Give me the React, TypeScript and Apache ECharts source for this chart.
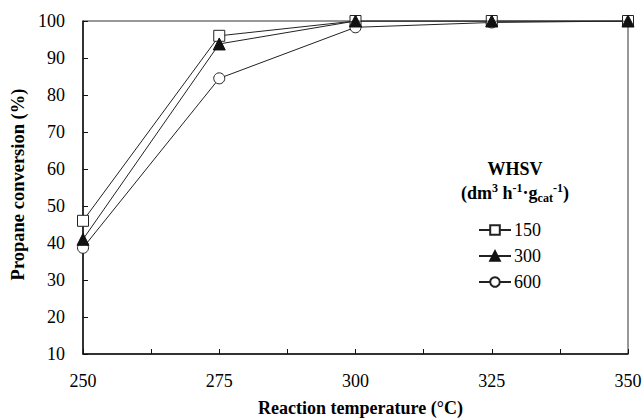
import React, { useEffect, useRef } from "react";
import * as echarts from "echarts";

const temperatures = [250, 275, 300, 325, 350];
const whsv150 = [46, 96, 100, 100, 100];
const whsv300 = [41, 93.8, 100, 100, 100];
const whsv600 = [38.7, 84.5, 98.3, 99.6, 100];
const seriesNames = ["150", "300", "600"];

const FONT = "Liberation Serif";

export default function App() {
  const ref = useRef<HTMLDivElement>(null);
  useEffect(() => {
    if (!ref.current) return;
    const chart = echarts.init(ref.current, null, { renderer: "svg" });
    const mk = (vals: number[]) => temperatures.map((t, i) => [t, vals[i]]);
    chart.setOption({
      animation: false,
      backgroundColor: "#fff",
      textStyle: { fontFamily: FONT, color: "#000" },
      grid: {
        left: 83,
        right: 14,
        top: 21,
        bottom: 66,
        show: true,
        borderColor: "#333",
        borderWidth: 1,
        containLabel: false,
        outerBoundsMode: "none",
      },
      xAxis: {
        type: "value",
        min: 250,
        max: 350,
        interval: 12.5,
        name: "Reaction temperature (°C)",
        nameLocation: "middle",
        nameGap: 45,
        nameTextStyle: { fontFamily: FONT, fontWeight: "bold", fontSize: 18, color: "#000", padding: [0, 0, 0, 10] },
        axisLine: { show: true, lineStyle: { color: "#111", width: 1.5 } },
        axisTick: { show: true, inside: true, length: 5, lineStyle: { color: "#111" } },
        splitLine: { show: false },
        axisLabel: {
          fontFamily: FONT,
          fontSize: 18,
          color: "#000",
          margin: 18,
          formatter: (v: number) => (v % 25 === 0 ? String(v) : ""),
        },
      },
      yAxis: {
        type: "value",
        min: 10,
        max: 100,
        interval: 10,
        name: "Propane conversion (%)",
        nameLocation: "middle",
        nameGap: 51,
        nameTextStyle: { fontFamily: FONT, fontWeight: "bold", fontSize: 18.5, color: "#000", padding: [0, 0, 0, 6] },
        axisLine: { show: true, lineStyle: { color: "#111", width: 1.5 } },
        axisTick: { show: true, inside: true, length: 5, lineStyle: { color: "#111" } },
        splitLine: { show: false },
        axisLabel: { fontFamily: FONT, fontSize: 18, color: "#000", margin: 18 },
      },
      legend: {
        orient: "vertical",
        left: 478,
        top: 221,
        padding: 0,
        itemWidth: 32,
        itemHeight: 12,
        itemGap: 8,
        data: seriesNames,
        textStyle: { fontFamily: FONT, fontSize: 18, color: "#000", padding: [0, 0, 0, -2] },
      },
      graphic: [
        {
          type: "text",
          x: 515,
          y: 169,
          style: {
            text: "WHSV",
            fontFamily: FONT,
            fontWeight: "bold",
            fontSize: 18,
            fill: "#000",
            align: "center",
            verticalAlign: "middle",
          },
        },
        {
          type: "text",
          x: 515,
          y: 193,
          style: {
            text: "(dm{sup|3} h{sup|-1}·g{sub|cat}{sup|-1})",
            fontFamily: FONT,
            fontWeight: "bold",
            fontSize: 18,
            fill: "#000",
            align: "center",
            verticalAlign: "middle",
            lineHeight: 22,
            rich: {
              sup: { fontSize: 12, fontWeight: "bold", fontFamily: FONT, verticalAlign: "top", lineHeight: 14 },
              sub: { fontSize: 12, fontWeight: "bold", fontFamily: FONT, verticalAlign: "bottom", lineHeight: 14 },
            },
          },
        },
      ],
      series: [
        {
          name: "150",
          type: "line",
          data: mk(whsv150),
          symbol: "rect",
          symbolSize: 11,
          z: 3,
          lineStyle: { color: "#222", width: 1 },
          itemStyle: { color: "#fff", borderColor: "#222", borderWidth: 1 },
        },
        {
          name: "300",
          type: "line",
          data: mk(whsv300),
          symbol: "triangle",
          symbolSize: 12,
          z: 4,
          lineStyle: { color: "#222", width: 1 },
          itemStyle: { color: "#111", borderColor: "#111", borderWidth: 1 },
        },
        {
          name: "600",
          type: "line",
          data: mk(whsv600),
          symbol: "circle",
          symbolSize: 11,
          z: 2,
          lineStyle: { color: "#222", width: 1 },
          itemStyle: { color: "#fff", borderColor: "#222", borderWidth: 1 },
        },
      ],
    });
    return () => chart.dispose();
  }, []);
  return <div ref={ref} style={{ width: 642, height: 420, position: "absolute", left: 0, top: 0 }} />;
}
